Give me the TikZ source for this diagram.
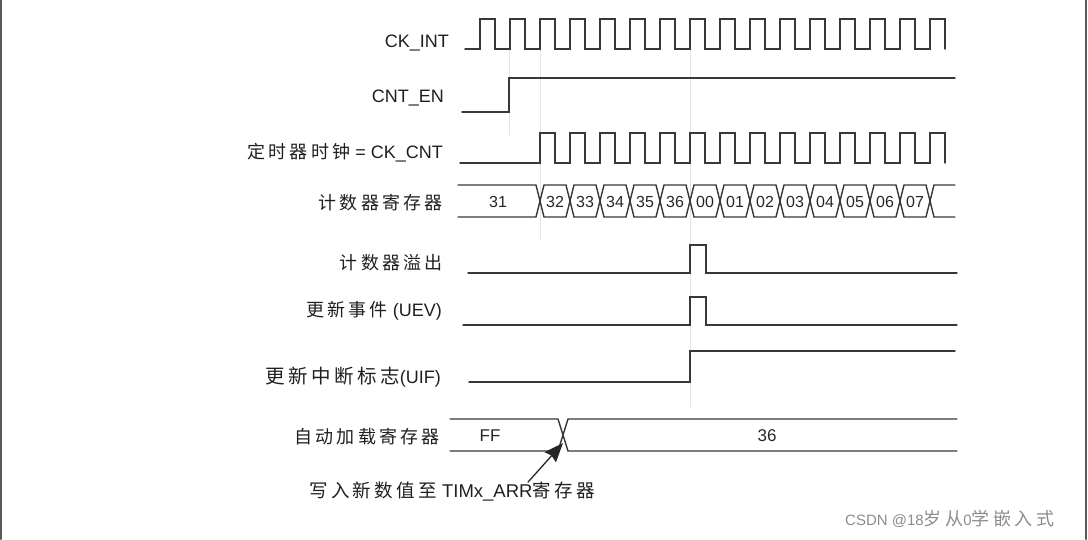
\documentclass[tikz,border=0pt]{standalone}
\usepackage{fontspec}
\setmainfont{Liberation Sans}
\newfontfamily\cjk[LetterSpace=18]{Noto Sans CJK SC}
\newfontfamily\cjkmark[LetterSpace=20]{Noto Sans CJK SC}
\usetikzlibrary{arrows.meta}

\tikzset{
  sig/.style={draw=black!78,line width=1.4pt,line join=miter},
  guide/.style={draw=black!10,line width=1pt},
  lbl/.style={anchor=east,inner sep=0pt,text=black!88,font=\fontsize{18}{20}\selectfont},
  val/.style={inner sep=0pt,text=black!85,font=\fontsize{16}{18}\selectfont},
}

\begin{document}
\begin{tikzpicture}[x=1pt,y=-1pt,>={Stealth[length=19pt,width=15pt,inset=2pt]},line cap=round]
\useasboundingbox (0,0) rectangle (1088,539);
% frame of the screenshot
\draw[black!65,line width=2.5pt] (1.2,0) -- (1.2,539);
\draw[black!65,line width=2.5pt] (1086,0) -- (1086,539);
% faint guide lines
\draw[guide] (509,48) -- (509,135);
\draw[guide] (540,48) -- (540,240);
\draw[guide] (690,48) -- (690,407);

% signal names
\node[lbl] (ckint) at (449,43) {CK\_INT};
\node[lbl] (cnten) at (444,98) {CNT\_EN};
\node[lbl] (ckcnt) at (443,153) {{\cjk 定时器时钟} = CK\_CNT};
\node[lbl] (cntreg) at (443,203) {\cjk 计数器寄存器};
\node[lbl] (ovf) at (443,263) {\cjk 计数器溢出};
\node[lbl] (uev) at (442,311) {{\cjk 更新事件} (UEV)};
\node[lbl] (uif) at (441,377) {{\cjk\fontsize{19.5}{20}\selectfont 更新中断标志}(UIF)};
\node[lbl] (arr) at (440,437) {\cjk 自动加载寄存器};

% CK_INT
\draw[sig] (465,49) -- (480,49)
  \foreach \k in {1,...,15} { -- ++(0,-30) -- ++(15,0) -- ++(0,30) -- ++(15,0) }
  -- ++(0,-30) -- ++(15,0) -- ++(0,30);
% CNT_EN
\draw[sig] (462,112) -- (509,112) -- (509,78) -- (955,78);
% CK_CNT
\draw[sig] (460,163) -- (540,163)
  \foreach \k in {1,...,13} { -- ++(0,-30) -- ++(15,0) -- ++(0,30) -- ++(15,0) }
  -- ++(0,-30) -- ++(15,0) -- ++(0,30);

% counter register
\draw[sig] (458,185) -- (536,185) -- (540,201) -- (536,217) -- (458,217);
\node[val] (cnt31) at (498,202) {31};
\foreach \v [count=\i from 0] in {32,33,34,35,36,00,01,02,03,04,05,06,07} {
  \pgfmathsetmacro\xa{540+30*\i}
  \draw[sig] (\xa,201) -- ++(4,-16) -- ++(22,0) -- ++(4,16) -- ++(-4,16) -- ++(-22,0) -- cycle;
  \node[val] (cnt\v) at (\xa+15,202) {\v};
}
\draw[sig] (955,185) -- (934,185) -- (930,201) -- (934,217) -- (955,217);

% overflow, UEV, UIF
\draw[sig] (468,273) -- (690,273) -- (690,245) -- (706,245) -- (706,273) -- (957,273);
\draw[sig] (463,325) -- (690,325) -- (690,297) -- (706,297) -- (706,325) -- (957,325);
\draw[sig] (469,382) -- (690,382) -- (690,351) -- (955,351);

% auto-reload register
\draw[sig] (450,419) -- (558,419) -- (568,451) -- (957,451);
\draw[sig] (450,451) -- (558,451) -- (568,419) -- (957,419);
\node[val,font=\fontsize{17}{19}\selectfont] (arrff) at (490,436) {FF};
\node[val,font=\fontsize{17}{19}\selectfont] (arr36) at (767,436) {36};

% note with arrow
\coordinate (arrtip) at (563,443);
\node[inner sep=0pt,text=black!88,font=\fontsize{18.5}{20}\selectfont] (wrnote) at (452,492)
  {{\cjk 写入新数值至} TIMx\_ARR{\cjk 寄存器}};
\draw[->,black!85,line width=1.3pt] ([xshift=76pt]wrnote.north) -- (arrtip);

% watermark
\node[anchor=west,inner sep=0pt,text=black!45,font=\fontsize{15}{17}\selectfont] (mark) at (845,519)
  {CSDN @18{\cjkmark\fontsize{18}{18}\selectfont 岁从}0{\cjkmark\fontsize{18}{18}\selectfont 学嵌入式}};
\end{tikzpicture}
\end{document}
